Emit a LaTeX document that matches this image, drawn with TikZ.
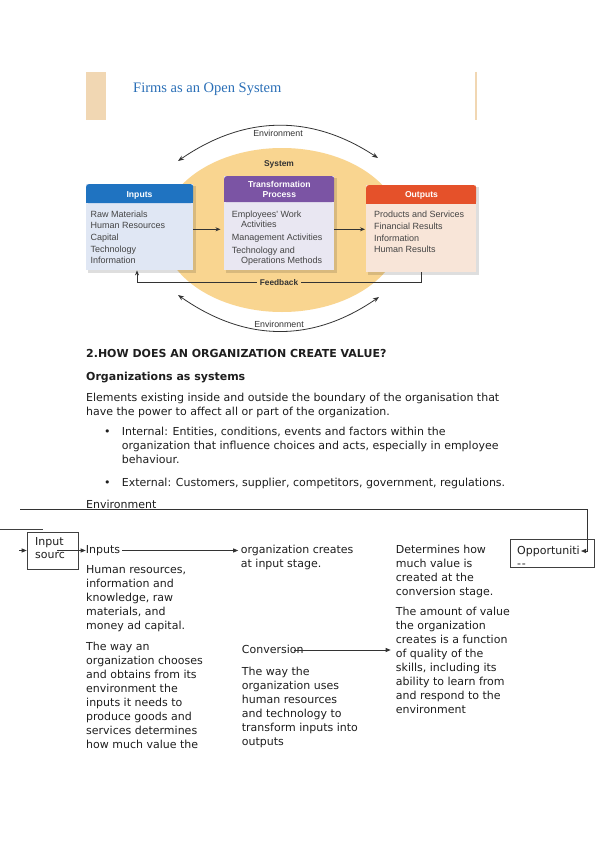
\documentclass[tikz,border=0pt]{standalone}
\usepackage{fontspec}
\setmainfont{DejaVu Sans}
\newfontfamily\arf{Liberation Sans}
\newfontfamily\tmf{Liberation Serif}
\usetikzlibrary{arrows.meta,calc,shapes.geometric}
\definecolor{ell}{HTML}{F9D590}
\definecolor{tanc}{HTML}{F1D7B3}
\definecolor{titleblue}{HTML}{2A6FB7}
\definecolor{inhead}{HTML}{1F73C1}
\definecolor{inbody}{HTML}{E0E7F4}
\definecolor{tphead}{HTML}{7B54A4}
\definecolor{tpbody}{HTML}{E9E7F2}
\definecolor{ophead}{HTML}{E5512A}
\definecolor{opbody}{HTML}{F8E5D8}
\definecolor{figtext}{HTML}{444444}
\definecolor{bodytext}{HTML}{1E1E1E}
\definecolor{linec}{HTML}{333333}
\newcommand\bstrut{\rule{0pt}{10pt}}
\newcommand\fstrut{\rule{0pt}{8pt}}
\tikzset{
  para/.style={font=\fontsize{11}{14}\selectfont, align=left, anchor=north west, inner sep=0pt, text=bodytext},
  parab/.style={para, font=\bfseries\fontsize{11}{14}\selectfont},
  figtxt/.style={font=\arf\fontsize{9}{11.6}\selectfont, align=left, anchor=north west, inner sep=0pt, text=figtext},
  headtxt/.style={font=\arf\bfseries\fontsize{8.6}{10}\selectfont, text=white, inner sep=0pt, align=center},
  boxbody/.style={anchor=north west, inner sep=0pt},
  headbox/.style={anchor=north west, inner sep=0pt, rounded corners=2.5pt},
  barr/.style={draw=linec, line width=0.8pt, -{Stealth[length=5pt,width=4pt]}},
  envarc/.style={draw=linec, line width=0.8pt, {Stealth[length=6pt,width=4.5pt]}-{Stealth[length=6pt,width=4.5pt]}},
  envlbl/.style={font=\arf\fontsize{8.8}{10}\selectfont, text=linec, inner sep=0pt},
  sarr/.style={draw=black!80, line width=0.8pt, -{Triangle[length=5pt,width=4pt]}},
  plain/.style={draw=black!75, line width=0.8pt},
}
\begin{document}
\begin{tikzpicture}[x=1pt,y=-1pt]
\fill[white] (0,0) rectangle (599,848);
\useasboundingbox (0,0) rectangle (599,848);

% ---------- title band ----------
\fill[tanc] (86,72) rectangle (105.5,120);
\draw[tanc, line width=1.2pt] (476,72) -- (476,120);
\node[anchor=base west, inner sep=0pt, font=\tmf\fontsize{14.5}{16}\selectfont, text=titleblue] (title) at (133,93) {Firms as an Open System};

% ---------- system ellipse ----------
\node[ellipse, fill=ell, minimum width=240pt, minimum height=164pt, inner sep=0pt] (sys) at (282,230) {};
\node[font=\arf\bfseries\fontsize{8.4}{10}\selectfont, text=linec, anchor=base, inner sep=0pt] (syslbl) at (279,166.7) {System};

% ---------- environment arcs ----------
\coordinate (eTL) at (178,161);
\coordinate (eTR) at (378,158);
\coordinate (eBL) at (178,295);
\coordinate (eBR) at (379,297);
\draw[envarc] (eTL) .. controls (244.7,115) and (311.3,114) .. (eTR);
\draw[envarc] (eBL) .. controls (245.3,342.3) and (312.3,343) .. (eBR);
\node[envlbl, anchor=base] (envtop) at (278,136) {Environment};
\node[envlbl, anchor=base] (envbot) at (279,327) {Environment};

% ---------- shadows ----------
\fill[black, opacity=0.13] (88,186) rectangle (195.5,272.5);
\fill[black, opacity=0.13] (226,178) rectangle (336.5,272.5);
\fill[black, opacity=0.13] (368,187) rectangle (478.5,274.5);

% ---------- Inputs box ----------
\node[boxbody, fill=inbody, minimum width=107pt, minimum height=86pt] (inp) at (86,184) {};
\node[headbox, fill=inhead, minimum width=107pt, minimum height=19pt] (inph) at (86,184) {};
\fill[inhead] (86,198) rectangle (193,203);
\node[headtxt, anchor=base] (inpt1) at (139.5,197.3) {Inputs};
\node[figtxt] (inlist) at (90.5,209) {\fstrut Raw Materials\\Human Resources\\Capital\\Technology\\Information};

% ---------- Transformation box ----------
\node[boxbody, fill=tpbody, minimum width=110pt, minimum height=94pt] (tp) at (224,176) {};
\node[headbox, fill=tphead, minimum width=110pt, minimum height=26pt] (tph) at (224,176) {};
\fill[tphead] (224,197) rectangle (334,202);
\node[headtxt, anchor=north] (tpt) at (279.3,179.3) {\fstrut Transformation\\Process};
\node[figtxt, font=\arf\fontsize{9}{10}\selectfont] (tp1) at (231.7,209) {\fstrut Employees' Work\\\hspace*{9.3pt}Activities};
\node[figtxt] (tp2) at (231.7,232) {\fstrut Management Activities};
\node[figtxt, font=\arf\fontsize{9}{10}\selectfont] (tp3) at (231.7,245) {\fstrut Technology and\\\hspace*{9.3pt}Operations Methods};

% ---------- Outputs box ----------
\node[boxbody, fill=opbody, minimum width=110pt, minimum height=87pt] (op) at (366,185) {};
\node[headbox, fill=ophead, minimum width=110pt, minimum height=18.5pt] (oph) at (366,185) {};
\node[fill=ophead, inner sep=0pt, anchor=north west, minimum width=110pt, minimum height=4pt] (opfix) at (366,199.5) {};
\node[headtxt, anchor=base] (opt) at (421.5,197.3) {Outputs};
\node[figtxt, font=\arf\fontsize{9}{11.7}\selectfont] (oplist) at (374,209.5) {\fstrut Products and Services\\Financial Results\\Information\\Human Results};

% ---------- flow arrows ----------
\coordinate (lvl) at (0,229.3);
\draw[barr, shorten >=3.5pt] (inp.east |- lvl) -- (tp.west |- lvl);
\draw[barr, shorten >=1pt] (tp.east |- lvl) -- (op.west |- lvl);
\coordinate (fbR) at (421,282.3);
\coordinate (fbL) at (137,282.3);
\draw[barr] (op.south -| fbR) -- (fbR) -- (fbL) -- (inp.south -| fbL);
\node[fill=ell, inner xsep=3pt, inner ysep=1pt, font=\arf\bfseries\fontsize{8.3}{10}\selectfont, text=linec] (fb) at (279,282.3) {Feedback};

% ---------- text section ----------
\node[parab] (h1) at (86,347) {\bstrut 2.HOW DOES AN ORGANIZATION CREATE VALUE?};
\node[parab] (h2) at (86,370) {\bstrut Organizations as systems};
\node[para] (p1) at (86,391.5) {\bstrut Elements existing inside and outside the boundary of the organisation that\\have the power to affect all or part of the organization.};
\node[para] (bul1) at (104,425) {\bstrut •};
\node[para] (p2) at (121.7,425) {\bstrut Internal: Entities, conditions, events and factors within the\\organization that influence choices and acts, especially in employee\\behaviour.};
\node[para] (bul2) at (104,476.5) {\bstrut •};
\node[para] (p3) at (121.7,476.5) {\bstrut External: Customers, supplier, competitors, government, regulations.};
\node[para] (envt) at (86,498) {\bstrut Environment};

% ---------- bottom diagram ----------
\coordinate (envL) at (20,509.5);
\coordinate (envR) at (587.5,509.5);
\coordinate (oppT) at (587.5,551);
\coordinate (oppTip) at (581,551);
\draw[sarr] (envL) -- (envR) -- (oppT) -- (oppTip);

\coordinate (slA) at (0,529);
\coordinate (slB) at (43,529);
\draw[plain] (slA) -- (slB);

\node[draw=black!75, line width=0.8pt, anchor=north west, inner sep=0pt, minimum width=51pt, minimum height=37pt] (isrc) at (26.7,532) {};
\node[para, font=\fontsize{11}{13}\selectfont] (isrct) at (35,535) {\bstrut Input\\sourc};

\node[draw=black!75, line width=0.8pt, anchor=north west, inner sep=0pt, minimum width=84pt, minimum height=28pt] (opp) at (510,539) {};
\node[para] (oppt1) at (517,544) {\bstrut Opportuniti};
\node[para] (oppt2) at (517,557.3) {\bstrut -\kern0.8pt-};

\coordinate (ia) at (19,550.5);
\coordinate (ib) at (57,550.5);
\node[para] (inpt) at (85.7,543) {\bstrut Inputs};
\draw[sarr] (ia) -- (isrc.west |- ia);
\draw[sarr] (ib) -- (ib -| inpt.west);

\node[para] (c1a) at (86,563.5) {\bstrut Human resources,\\information and\\knowledge, raw\\materials, and\\money ad capital.};
\node[para] (c1b) at (86,640) {\bstrut The way an\\organization chooses\\and obtains from its\\environment the\\inputs it needs to\\produce goods and\\services determines\\how much value the};

\node[para] (c2a) at (240.7,543) {\bstrut organization creates\\at input stage.};
\draw[sarr, shorten <=2pt, shorten >=2.5pt] (inpt.east |- ib) -- (ib -| c2a.west);

\node[para] (cv) at (241.7,643.3) {\bstrut Conversion};
\node[para] (c2b) at (241.7,665) {\bstrut The way the\\organization uses\\human resources\\and technology to\\transform inputs into\\outputs};

\node[para] (c3a) at (395.7,543) {\bstrut Determines how\\much value is\\created at the\\conversion stage.};
\node[para] (c3b) at (395.7,605) {\bstrut The amount of value\\the organization\\creates is a function\\of quality of the\\skills, including its\\ability to learn from\\and respond to the\\environment};

\coordinate (cvA) at (294,650);
\draw[sarr, shorten >=5pt] (cvA) -- (cvA -| c3b.west);
\end{tikzpicture}
\end{document}
